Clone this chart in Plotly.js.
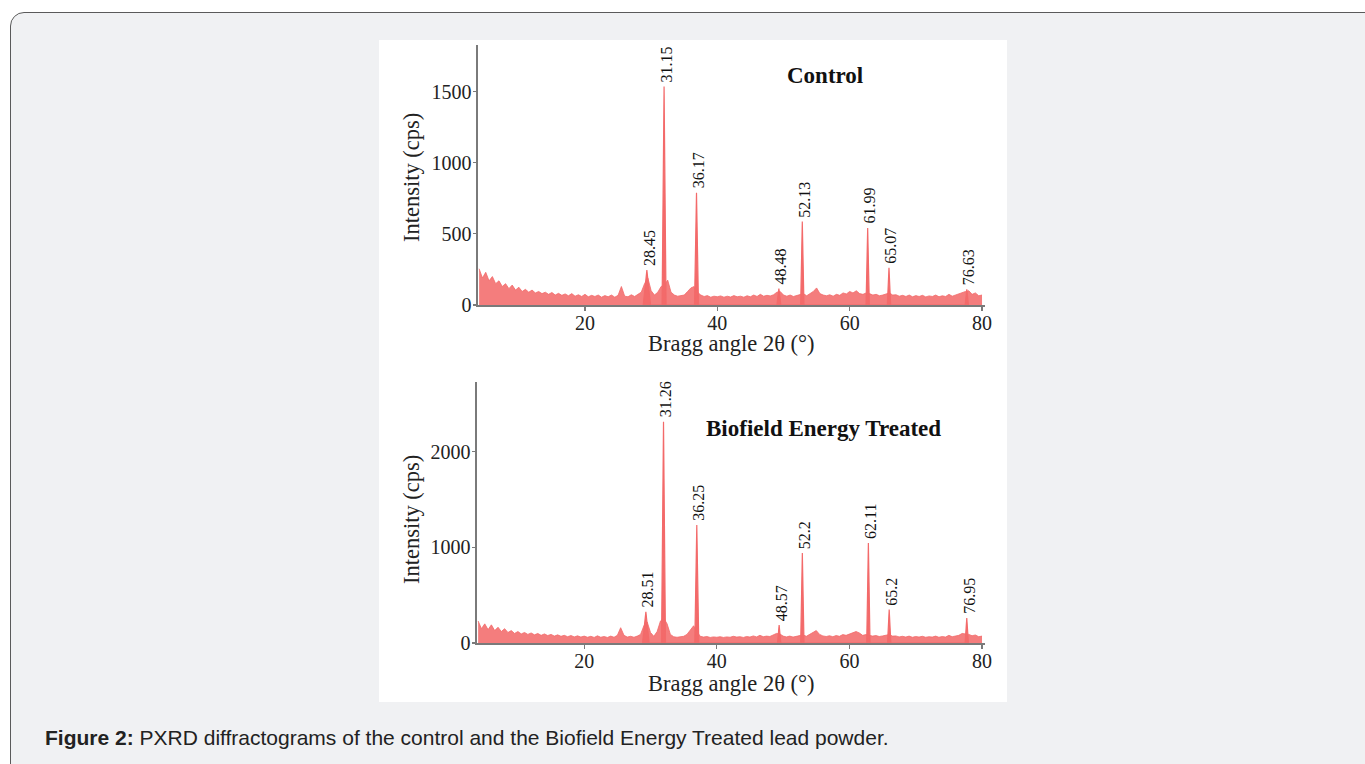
<!DOCTYPE html>
<html>
<head>
<meta charset="utf-8">
<script src="https://cdn.plot.ly/plotly-3.0.1.min.js"></script>
<style>
  html, body { margin:0; padding:0; width:1365px; height:764px; overflow:hidden; background:#ffffff; }
  #frame { position:absolute; left:10px; top:12px; width:1400px; height:800px; background:#f0f1f3;
           border:1.5px solid #5a5a5a; border-radius:14px; box-sizing:border-box; }
  #panel { position:absolute; left:379px; top:40px; width:628px; height:662px; background:#ffffff; }
  #chart { position:absolute; left:0; top:0; width:1365px; height:764px; }
</style>
</head>
<body>
<div id="frame"></div>
<div id="panel"></div>
<div id="chart"></div>
<script>
// ---- Data ----
// background noise envelope, sampled every 0.5 deg from 4 to 80 (2θ)
const bgStart = 4, bgStep = 0.5;
const ctrlBg = [255,190,230,170,200,150,170,130,150,115,140,105,125,95,110,90,105,85,95,80,
  90,75,88,70,82,68,78,65,80,62,72,60,75,58,68,60,70,55,66,58,
  70,55,68,130,62,58,72,60,75,90,150,190,100,70,90,130,140,175,90,70,
  62,68,70,95,120,130,90,70,60,66,55,62,58,64,55,62,56,66,58,62,
  55,65,58,70,60,75,62,68,64,72,90,95,70,62,70,60,68,75,80,65,
  80,95,120,80,70,65,72,62,75,68,85,78,95,85,100,80,75,85,80,70,
  75,65,70,80,85,70,72,62,68,60,70,58,66,60,68,57,64,60,70,58,
  65,60,75,62,70,80,90,95,100,75,85,65,70];
const treatBg = [230,150,200,140,190,130,165,120,150,110,130,100,120,95,110,90,105,85,100,80,
  95,78,90,72,85,70,80,66,78,64,75,62,72,60,70,58,75,60,68,58,
  72,60,80,160,80,62,70,60,72,90,180,220,110,70,120,230,260,200,90,65,
  60,65,70,90,130,180,120,70,62,68,58,64,60,66,58,64,60,70,62,66,
  58,68,62,74,64,80,66,72,68,80,100,95,72,64,72,62,70,80,85,70,
  90,110,130,90,74,68,76,66,78,70,88,80,95,110,120,105,80,88,82,72,
  78,68,74,85,88,72,74,64,70,62,72,60,68,62,70,60,66,62,72,60,
  68,62,80,66,74,80,100,96,90,76,84,66,72];

// peaks: plotted position (2θ), top intensity (cps), half base width (deg)
const ctrlPeakX = [29.35, 31.95, 36.85, 49.3, 52.84, 62.72, 65.94, 77.7];
const ctrlPeakY = [245, 1537, 790, 115, 587, 542, 262, 110];
const ctrlPeakW = [0.55, 0.3, 0.3, 0.3, 0.25, 0.25, 0.25, 0.25];
const ctrlLabels = ["28.45", "31.15", "36.17", "48.48", "52.13", "61.99", "65.07", "76.63"];

const treatPeakX = [29.3, 31.96, 36.98, 49.4, 52.9, 62.86, 66.0, 77.7];
const treatPeakY = [327, 2314, 1234, 188, 941, 1045, 350, 261];
const treatPeakW = [0.5, 0.3, 0.3, 0.25, 0.25, 0.25, 0.25, 0.25];
const treatLabels = ["28.51", "31.26", "36.25", "48.57", "52.2", "62.11", "65.2", "76.95"];

const xTicks = [20, 40, 60, 80];
const ctrlYTicks = [0, 500, 1000, 1500];
const treatYTicks = [0, 1000, 2000];

const panelTitles = ["Control", "Biofield Energy Treated"];
const xTitle = "Bragg angle 2θ (°)";
const yTitle = "Intensity (cps)";
const caption = "<b>Figure 2:</b> PXRD diffractograms of the control and the Biofield Energy Treated lead powder.";

// ---- Build traces ----
const W = 1365, H = 764;
const fillCol = 'rgba(242,96,96,0.82)';
const lineCol = '#f36a6a';

function bgTrace(vals, xa, ya) {
  const xs = vals.map((_, i) => bgStart + i * bgStep);
  return { x: xs, y: vals, xaxis: xa, yaxis: ya, type: 'scatter', mode: 'lines',
           fill: 'tozeroy', fillcolor: fillCol, line: { color: lineCol, width: 0.8 },
           hoverinfo: 'skip', showlegend: false };
}
function peakTrace(px, py, pw, xa, ya) {
  const xs = [], ys = [];
  px.forEach((p, i) => { xs.push(p - pw[i], p, p + pw[i]); ys.push(0, py[i], 0); });
  return { x: xs, y: ys, xaxis: xa, yaxis: ya, type: 'scatter', mode: 'lines',
           fill: 'tozeroy', fillcolor: lineCol, line: { color: lineCol, width: 1.2 },
           hoverinfo: 'skip', showlegend: false };
}
const traces = [
  bgTrace(ctrlBg, 'x', 'y'), peakTrace(ctrlPeakX, ctrlPeakY, ctrlPeakW, 'x', 'y'),
  bgTrace(treatBg, 'x2', 'y2'), peakTrace(treatPeakX, treatPeakY, treatPeakW, 'x2', 'y2')
];

const serif = 'Liberation Serif, Times New Roman, serif';
const tickFont = { family: serif, size: 20, color: '#222' };

function xAxis(dom, anchor) {
  return { domain: dom, anchor: anchor, range: [3.83, 80.45], tickmode: 'array', tickvals: xTicks,
           ticks: 'outside', ticklen: 4, tickwidth: 1.2, tickcolor: '#7a7a7a',
           showline: true, linecolor: '#7a7a7a', linewidth: 1.6, showgrid: false, zeroline: false,
           tickfont: tickFont, ticklabelstandoff: -5, automargin: false };
}
function yAxis(dom, anchor, rng, tv) {
  return { domain: dom, anchor: anchor, range: rng, tickmode: 'array', tickvals: tv,
           ticks: 'outside', ticklen: 3, tickwidth: 1.2, tickcolor: '#7a7a7a',
           showline: true, linecolor: '#7a7a7a', linewidth: 1.6, showgrid: false, zeroline: false,
           tickfont: tickFont, ticklabelstandoff: -2, automargin: false };
}

const annotations = [];
function peakLabels(px, py, labels, xr, yr) {
  px.forEach((p, i) => annotations.push({ x: p, y: py[i], xref: xr, yref: yr, text: labels[i],
    textangle: -90, showarrow: false, xanchor: 'center', yanchor: 'bottom', yshift: 2, xshift: 2,
    font: { family: serif, size: 16, color: '#111' } }));
}
peakLabels(ctrlPeakX, ctrlPeakY, ctrlLabels, 'x', 'y');
peakLabels(treatPeakX, treatPeakY, treatLabels, 'x2', 'y2');

function pt(xpx, ypx, text, font, extra) {
  annotations.push(Object.assign({ x: xpx / W, y: 1 - ypx / H, xref: 'paper', yref: 'paper', text: text,
    showarrow: false, xanchor: 'center', yanchor: 'middle', font: font }, extra || {}));
}
const boldFont = { family: serif, size: 23, color: '#111' };
const titleFont = { family: serif, size: 22.5, color: '#222' };
pt(825, 76, '<b>' + panelTitles[0] + '</b>', boldFont);
pt(823, 428, '<b>' + panelTitles[1] + '</b>', boldFont);
pt(731, 343, xTitle, titleFont);
pt(731, 683, xTitle, titleFont);
pt(411, 178, yTitle, titleFont, { textangle: -90 });
pt(411, 520, yTitle, titleFont, { textangle: -90 });
pt(43, 737, caption, { family: 'Liberation Sans, Arial, sans-serif', size: 21, color: '#222' }, { xanchor: 'left' });

const layout = {
  width: W, height: H, margin: { l: 0, r: 0, t: 0, b: 0 },
  paper_bgcolor: 'rgba(0,0,0,0)', plot_bgcolor: 'rgba(0,0,0,0)',
  showlegend: false,
  xaxis: xAxis([478 / W, 985 / W], 'y'),
  yaxis: yAxis([1 - 305 / H, 1 - 45 / H], 'x', [0, 1828], ctrlYTicks),
  xaxis2: xAxis([477 / W, 985 / W], 'y2'),
  yaxis2: yAxis([1 - 643 / H, 1 - 382 / H], 'x2', [0, 2729], treatYTicks),
  annotations: annotations
};
Plotly.newPlot('chart', traces, layout, { staticPlot: true, displayModeBar: false });
</script>
</body>
</html>
